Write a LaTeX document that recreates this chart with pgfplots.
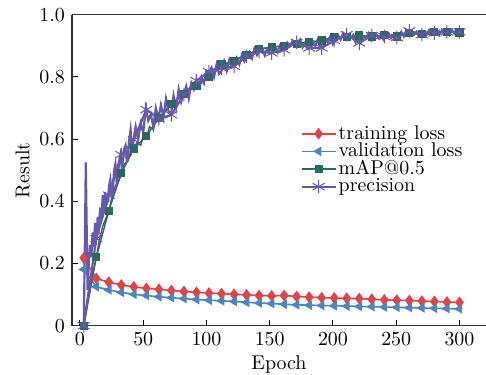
\documentclass[border=0pt]{standalone}
\usepackage{pgfplots}
\pgfplotsset{compat=1.18}
\definecolor{cred}{RGB}{222,68,72}
\definecolor{cblue}{RGB}{76,134,192}
\definecolor{cteal}{RGB}{44,104,98}
\definecolor{cpurp}{RGB}{104,88,172}
\begin{document}
\begin{tikzpicture}
\begin{axis}[
  scale only axis,
  width=207bp, height=155.5bp,
  xmin=-6.3, xmax=321, ymin=0, ymax=1,
  axis x line*=box, axis y line*=left,
  xtick pos=bottom, ytick pos=left,
  xtick={0,50,100,150,200,250,300},
  ytick={0,0.2,0.4,0.6,0.8,1.0},
  yticklabels={0,0.2,0.4,0.6,0.8,1.0},
  major tick length=3bp,
  tick style={black, line width=0.5pt},
  axis line style={line width=0.6pt, black!80},
  xlabel={Epoch}, ylabel={Result},
  xlabel style={yshift=2pt},
  ylabel style={yshift=-2pt},
  legend style={draw=none, fill=none, at={(0.551,0.652)}, anchor=north west,
    font=\normalsize, row sep=-1.6pt, inner sep=0pt,
    nodes={inner sep=1pt}},
  legend cell align=left,
]
% training loss
\addplot[cred, line width=0.8pt, mark=diamond*, mark size=2.3bp] coordinates {
(3,0.218)(12.9,0.152)(22.8,0.140)(32.7,0.131)(42.6,0.125)(52.5,0.120)(62.4,0.117)(72.3,0.113)(82.2,0.110)(92.1,0.107)
(102,0.105)(111.9,0.103)(121.8,0.101)(131.7,0.099)(141.6,0.097)(151.5,0.096)(161.4,0.097)(171.3,0.094)(181.2,0.092)(191.1,0.090)
(201,0.089)(210.9,0.088)(220.8,0.087)(230.7,0.085)(240.6,0.083)(250.5,0.082)(260.4,0.081)(270.3,0.079)(280.2,0.078)(290.1,0.076)(300,0.075)};
\addlegendentry{training loss}
% validation loss
\addplot[cblue, line width=0.8pt, mark=triangle*, mark size=2bp, mark options={rotate=90}] coordinates {
(3,0.181)(12.9,0.125)(22.8,0.115)(32.7,0.107)(42.6,0.101)(52.5,0.097)(62.4,0.093)(72.3,0.090)(82.2,0.087)(92.1,0.084)
(102,0.082)(111.9,0.080)(121.8,0.078)(131.7,0.075)(141.6,0.073)(151.5,0.071)(161.4,0.069)(171.3,0.067)(181.2,0.066)(191.1,0.065)
(201,0.064)(210.9,0.063)(220.8,0.062)(230.7,0.061)(240.6,0.060)(250.5,0.059)(260.4,0.058)(270.3,0.057)(280.2,0.056)(290.1,0.055)(300,0.054)};
\addlegendentry{validation loss}
% mAP line
\addplot[cteal, line width=0.7pt, forget plot] coordinates {
(3,0)(5,0.06)(8,0.14)(10,0.17)(13,0.22)(15,0.27)(18,0.32)(20,0.34)(23,0.37)(25,0.41)(28,0.45)(30,0.46)(33,0.49)(35,0.52)(38,0.53)
(40,0.56)(43,0.57)(45,0.59)(48,0.58)(50,0.61)(53,0.61)(55,0.64)(58,0.63)(60,0.66)(62,0.668)(65,0.68)(68,0.69)(70,0.70)(72,0.714)
(75,0.72)(78,0.73)(80,0.735)(82,0.746)(85,0.755)(88,0.76)(90,0.765)(92,0.772)(95,0.78)(98,0.79)(100,0.795)(102,0.80)(105,0.815)
(108,0.825)(110,0.83)(112,0.84)(115,0.84)(118,0.845)(122,0.851)(125,0.86)(128,0.865)(132,0.871)(135,0.875)(138,0.88)(142,0.889)
(146,0.892)(151,0.896)(156,0.898)(161,0.900)(166,0.905)(171,0.907)(176,0.91)(181,0.912)(186,0.914)(191,0.917)(196,0.922)(201,0.928)
(206,0.926)(211,0.928)(216,0.931)(221,0.933)(226,0.931)(231,0.930)(236,0.933)(241,0.934)(246,0.932)(251,0.930)(256,0.936)(260,0.940)
(265,0.939)(270,0.938)(275,0.942)(280,0.945)(285,0.944)(290,0.945)(295,0.944)(300,0.943)};
% mAP marks
\addplot[cteal, line width=0.7pt, mark=square*, mark size=1.7bp] coordinates {
(3,0)(12.9,0.22)(22.8,0.37)(32.7,0.49)(42.6,0.57)(52.5,0.61)(62.4,0.668)(72.3,0.714)(82.2,0.746)(92.1,0.772)
(102,0.80)(111.9,0.84)(121.8,0.851)(131.7,0.871)(141.6,0.889)(151.5,0.896)(161.4,0.90)(171.3,0.907)(181.2,0.912)(191.1,0.917)
(201,0.928)(210.9,0.928)(220.8,0.933)(230.7,0.93)(240.6,0.934)(250.5,0.93)(260.4,0.94)(270.3,0.938)(280.2,0.945)(290.1,0.945)(300,0.943)};
\addlegendentry{mAP@0.5}
% precision line
\addplot[cpurp, line width=1.1pt, forget plot] coordinates {
(3,0)(4,0.30)(4.6,0.525)(6,0.115)(7,0.20)(8,0.26)(9,0.22)(10,0.30)(11,0.27)(12,0.33)(13,0.28)(14,0.35)(15,0.32)(16,0.38)(17,0.34)
(18,0.42)(19,0.37)(20,0.43)(21,0.39)(22,0.40)(23,0.45)(24,0.47)(25,0.42)(26,0.44)(27,0.50)(28,0.52)(29,0.46)(30,0.48)(31,0.53)(32,0.55)(33,0.51)(34,0.53)(35,0.57)(36,0.58)(37,0.53)(38,0.54)(39,0.60)(40,0.63)(41,0.57)(42,0.59)
(44,0.64)(46,0.60)(48,0.65)(50,0.62)(52,0.70)(54,0.66)(56,0.68)(58,0.64)(60,0.70)(62,0.665)(64,0.71)(66,0.67)(68,0.73)(70,0.69)
(72,0.68)(74,0.74)(76,0.70)(78,0.76)(80,0.72)(82,0.745)(84,0.77)(86,0.73)(88,0.78)(90,0.76)(92,0.79)(94,0.77)(96,0.80)(98,0.78)
(100,0.82)(102,0.815)(104,0.83)(106,0.80)(108,0.84)(110,0.81)(112,0.82)(114,0.85)(116,0.82)(118,0.855)(120,0.83)(122,0.835)
(124,0.86)(126,0.84)(128,0.87)(130,0.85)(132,0.866)(134,0.88)(136,0.86)(138,0.89)(140,0.87)(142,0.882)(144,0.895)(146,0.87)
(148,0.89)(150,0.875)(152,0.877)(154,0.90)(156,0.88)(158,0.90)(160,0.885)(162,0.887)(164,0.91)(166,0.90)(168,0.915)(170,0.90)
(172,0.911)(174,0.92)(176,0.895)(178,0.91)(180,0.89)(182,0.893)(184,0.915)(186,0.90)(188,0.92)(190,0.895)(192,0.893)(194,0.92)
(196,0.91)(198,0.93)(200,0.905)(202,0.917)(204,0.935)(206,0.92)(208,0.94)(210,0.925)(212,0.936)(214,0.925)(216,0.935)(218,0.91)
(220,0.92)(222,0.909)(224,0.93)(226,0.925)(228,0.94)(230,0.92)(232,0.933)(234,0.94)(236,0.925)(238,0.935)(240,0.92)(242,0.93)
(244,0.94)(246,0.925)(248,0.935)(250,0.93)(252,0.927)(254,0.945)(256,0.93)(258,0.95)(260,0.94)(262,0.948)(264,0.935)(266,0.945)
(268,0.93)(270,0.936)(272,0.945)(274,0.935)(276,0.95)(278,0.935)(280,0.941)(282,0.95)(284,0.935)(286,0.948)(288,0.94)(290,0.945)
(292,0.935)(294,0.95)(296,0.94)(298,0.948)(300,0.945)};
% precision marks
\addplot[cpurp, line width=1.1pt, mark=asterisk, mark size=3.4bp, mark options={line width=0.5pt}] coordinates {
(3,0)(12.9,0.28)(22.8,0.42)(32.7,0.55)(42.6,0.598)(52.5,0.695)(62.4,0.665)(72.3,0.678)(82.2,0.743)(92.1,0.788)
(102,0.817)(111.9,0.828)(121.8,0.834)(131.7,0.866)(141.6,0.882)(151.5,0.877)(161.4,0.887)(171.3,0.911)(181.2,0.893)(191.1,0.893)
(201,0.917)(210.9,0.936)(220.8,0.909)(230.7,0.933)(240.6,0.93)(250.5,0.927)(260.4,0.948)(270.3,0.936)(280.2,0.941)(290.1,0.945)(300,0.945)};
\addlegendentry{precision}
\end{axis}
\pgfresetboundingbox
\path ([shift={(-36bp,-24.5bp)}]current axis.south west) rectangle ([shift={(0bp,7.35bp)}]current axis.north east);
\end{tikzpicture}
\end{document}
